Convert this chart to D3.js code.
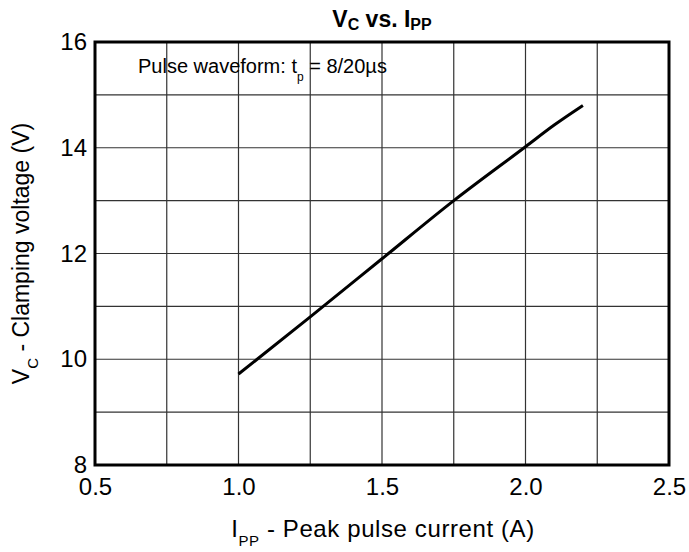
<!DOCTYPE html>
<html>
<head>
<meta charset="utf-8">
<script src="https://cdn.jsdelivr.net/npm/d3@7"></script>
<style>
  body { margin: 0; background: #fff; }
  text { font-family: "Liberation Sans", Arial, sans-serif; fill: #000; }
</style>
</head>
<body>
<div class="chart"></div>
<script>
var svgWidth = 689;
var svgHeight = 552;

var margin = { top: 42, right: 20, bottom: 87, left: 95 };
var width = 669 - margin.left;
var height = 465 - margin.top;

// curve
var currentA = [1.0, 1.25, 1.5, 1.75, 2.0, 2.1, 2.2];
var clampV = [9.72, 10.8, 11.9, 13.0, 14.02, 14.43, 14.8];

var xTicks = [0.5, 1.0, 1.5, 2.0, 2.5];
var yTicks = [8, 10, 12, 14, 16];
var xGrid = [0.75, 1.0, 1.25, 1.5, 1.75, 2.0, 2.25];
var yGrid = [9, 10, 11, 12, 13, 14, 15];

var svg = d3.select(".chart")
  .append("svg")
  .attr("width", svgWidth)
  .attr("height", svgHeight);

var chart = svg.append("g")
  .attr("transform", "translate(" + margin.left + "," + margin.top + ")");

var x = d3.scaleLinear().domain([0.5, 2.5]).range([0, width]);
var y = d3.scaleLinear().domain([8, 16]).range([height, 0]);

// grid
chart.selectAll(".vgrid")
  .data(xGrid)
  .enter().append("line")
  .attr("x1", function(d) { return x(d); })
  .attr("x2", function(d) { return x(d); })
  .attr("y1", 0)
  .attr("y2", height)
  .attr("stroke", "#333")
  .attr("stroke-width", 1.2);

chart.selectAll(".hgrid")
  .data(yGrid)
  .enter().append("line")
  .attr("y1", function(d) { return y(d); })
  .attr("y2", function(d) { return y(d); })
  .attr("x1", 0)
  .attr("x2", width)
  .attr("stroke", "#333")
  .attr("stroke-width", 1.2);

// axes (labels only, frame drawn below)
var bottomAxis = d3.axisBottom(x).tickValues(xTicks).tickSize(0).tickPadding(13)
  .tickFormat(d3.format(".1f"));
var leftAxis = d3.axisLeft(y).tickValues(yTicks).tickSize(0).tickPadding(8);

var gx = chart.append("g")
  .attr("transform", "translate(0," + height + ")")
  .call(bottomAxis);
gx.select(".domain").remove();
gx.selectAll("text").style("font-size", "24px").attr("dy", "0.71em")
  .style("font-family", "Liberation Sans, Arial, sans-serif");

var gy = chart.append("g").call(leftAxis);
gy.select(".domain").remove();
gy.selectAll("text").style("font-size", "24px")
  .style("font-family", "Liberation Sans, Arial, sans-serif");

// frame
chart.append("rect")
  .attr("x", 0).attr("y", 0)
  .attr("width", width).attr("height", height)
  .attr("fill", "none")
  .attr("stroke", "#000")
  .attr("stroke-width", 3);

// curve
var pts = currentA.map(function(d, i) { return [d, clampV[i]]; });
var line = d3.line()
  .x(function(d) { return x(d[0]); })
  .y(function(d) { return y(d[1]); })
  .curve(d3.curveMonotoneX);

chart.append("path")
  .datum(pts)
  .attr("d", line)
  .attr("fill", "none")
  .attr("stroke", "#000")
  .attr("stroke-width", 3);

// annotation
var note = chart.append("text")
  .attr("x", 43)
  .attr("y", 31)
  .style("font-size", "20px");
note.append("tspan").text("Pulse waveform: t");
note.append("tspan").attr("dy", 8).style("font-size", "12px").text("p");
note.append("tspan").attr("dy", -8).text(" = 8/20µs");

// title
var title = svg.append("text")
  .attr("x", 382)
  .attr("y", 27)
  .attr("text-anchor", "middle")
  .style("font-size", "23px")
  .style("font-weight", "bold");
title.append("tspan").text("V");
title.append("tspan").attr("dy", 3).style("font-size", "16px").text("C");
title.append("tspan").attr("dy", -3).text(" vs. I");
title.append("tspan").attr("dy", 3).style("font-size", "16px").text("PP");

// x label
var xl = svg.append("text")
  .attr("x", 383)
  .attr("y", 537)
  .attr("text-anchor", "middle")
  .style("font-size", "24px")
  .style("letter-spacing", "0.6px");
xl.append("tspan").text("I");
xl.append("tspan").attr("dy", 9).style("font-size", "15px").text("PP");
xl.append("tspan").attr("dy", -9).text(" - Peak pulse current (A)");

// y label
var yl = svg.append("text")
  .attr("transform", "translate(29," + (margin.top + height / 2) + ") rotate(-90)")
  .attr("text-anchor", "middle")
  .style("font-size", "23px");
yl.append("tspan").text("V");
yl.append("tspan").attr("dy", 9).style("font-size", "15px").text("C");
yl.append("tspan").attr("dy", -9).text(" - Clamping voltage (V)");
</script>
</body>
</html>
